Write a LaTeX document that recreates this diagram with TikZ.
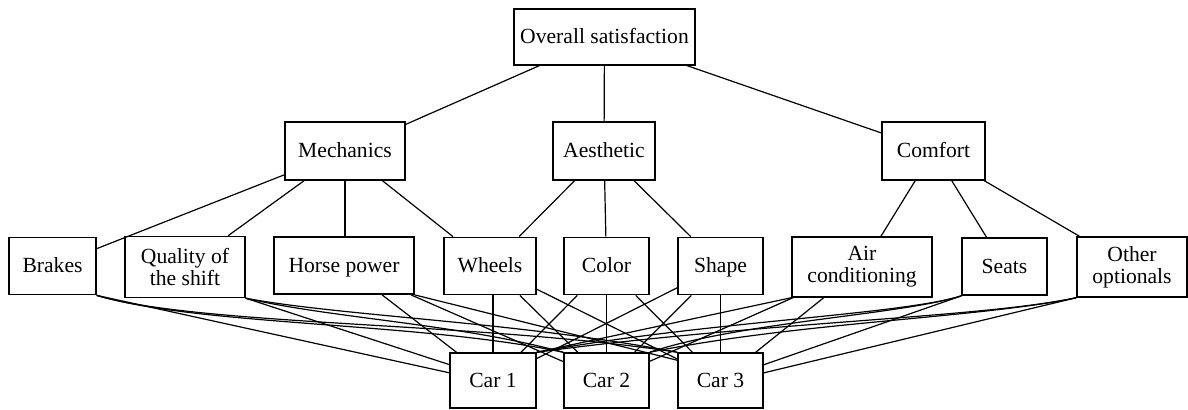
\documentclass[tikz,border=0pt]{standalone}
\usepackage{fontspec}
\setmainfont{Liberation Serif}
\usepackage{tikz}
\usetikzlibrary{calc}

\tikzset{
  box/.style={draw, line width=1.1pt, inner sep=0pt, align=center,
    font=\fontsize{16.2}{16.5}\selectfont},
  oneline/.style={box, text height=12pt, text depth=2pt},
  link/.style={line width=0.9pt},
}

\begin{document}
\begin{tikzpicture}
\begin{scope}[x=0.75pt, y=-0.75pt]
\useasboundingbox (0,0) rectangle (1188,410);

\node[oneline, minimum width=135.75pt, minimum height=42pt] (overall) at (604.5,37) {Overall satisfaction};

\node[oneline, minimum width=90pt, minimum height=43.5pt] (mech) at (345,151) {Mechanics};
\node[oneline, minimum width=76.5pt, minimum height=43.5pt] (aest) at (604,151) {Aesthetic};
\node[oneline, minimum width=77.25pt, minimum height=43.5pt] (comf) at (933.5,151) {Comfort};

\node[oneline, minimum width=65.25pt, minimum height=43pt] (brakes) at (52.5,266) {Brakes};
\node[box, minimum width=90pt, minimum height=45.75pt] (quality) at (185,267) {Quality of\\ the shift};
\node[oneline, minimum width=105pt, minimum height=43pt] (horse) at (344,265.5) {Horse power};
\node[oneline, minimum width=69pt, minimum height=43pt] (wheels) at (490,266) {Wheels};
\node[oneline, minimum width=63.75pt, minimum height=43pt] (color) at (606.5,266) {Color};
\node[oneline, minimum width=63.75pt, minimum height=43pt] (shape) at (720.5,266) {Shape};
\node[box, minimum width=105pt, minimum height=45pt] (air) at (862,267) {Air\\ conditioning};
\node[oneline, minimum width=63.75pt, minimum height=43pt] (seats) at (1004.5,266.5) {Seats};
\node[box, minimum width=82.5pt, minimum height=45pt] (other) at (1132,267) {Other\\ optionals};

\node[oneline, minimum width=64.5pt, minimum height=41.25pt] (car1) at (493,380.5) {Car 1};
\node[oneline, minimum width=63.75pt, minimum height=41.25pt] (car2) at (606.5,380.5) {Car 2};
\node[oneline, minimum width=63.75pt, minimum height=41.25pt] (car3) at (720.5,380.5) {Car 3};

\draw[link] (overall)--(mech);
\draw[link] (overall)--(aest);
\draw[link] (overall)--(comf);

\draw[link] (mech)--(brakes);
\draw[link] (mech)--(quality);
\draw[link] (mech)--(mech |- horse.north);
\draw[link] (mech)--(wheels);
\draw[link] (aest)--(wheels);
\draw[link] (aest)--(color);
\draw[link] (aest)--(shape);
\draw[link] (comf)--(air);
\draw[link] (comf)--(seats);
\draw[link] (comf)--(other);

\draw[link] (brakes.south east)--(car1.170);
\draw[link] (brakes.south east) .. controls (200,326) and (420,322) .. (car2.north west);
\draw[link] (brakes.south east) .. controls (200,326) and (480,322) .. (car3.north west);
\draw[link] (quality.south east)--(car1.160);
\draw[link] (quality.south east) .. controls (330,318) and (460,324) .. (car2.north west);
\draw[link] (quality.south east) .. controls (340,316) and (520,322) .. (car3.north west);
\draw[link] (horse)--(car1);
\draw[link] (horse)--(car2);
\draw[link] (horse.south east)--([yshift=-6pt]car3.north west);

\draw[link] (car1 |- wheels.south)--(car1);
\draw[link] (wheels)--(car2);
\draw[link] (wheels)--(car3);
\draw[link] (color)--(car1);
\draw[link] (color)--(car2);
\draw[link] (color)--(car3);
\draw[link] (shape)--(car1);
\draw[link] (shape)--(car2);
\draw[link] (shape)--(car3);

\draw[link] (air.south west)--(car1.north east);
\draw[link] (air)--(car2);
\draw[link] (air)--(car3);
\draw[link] (seats.south west) .. controls (900,315) and (700,322) .. (car1.north east);
\draw[link] (seats.south west) .. controls (900,315) and (740,322) .. (car2.north east);
\draw[link] (seats.south west)--(car3.20);
\draw[link] (other.south west) .. controls (980,318) and (760,322) .. (car1.north east);
\draw[link] (other.south west) .. controls (980,318) and (800,322) .. (car2.north east);
\draw[link] (other.south west)--(car3.10);
\end{scope}
\end{tikzpicture}
\end{document}
